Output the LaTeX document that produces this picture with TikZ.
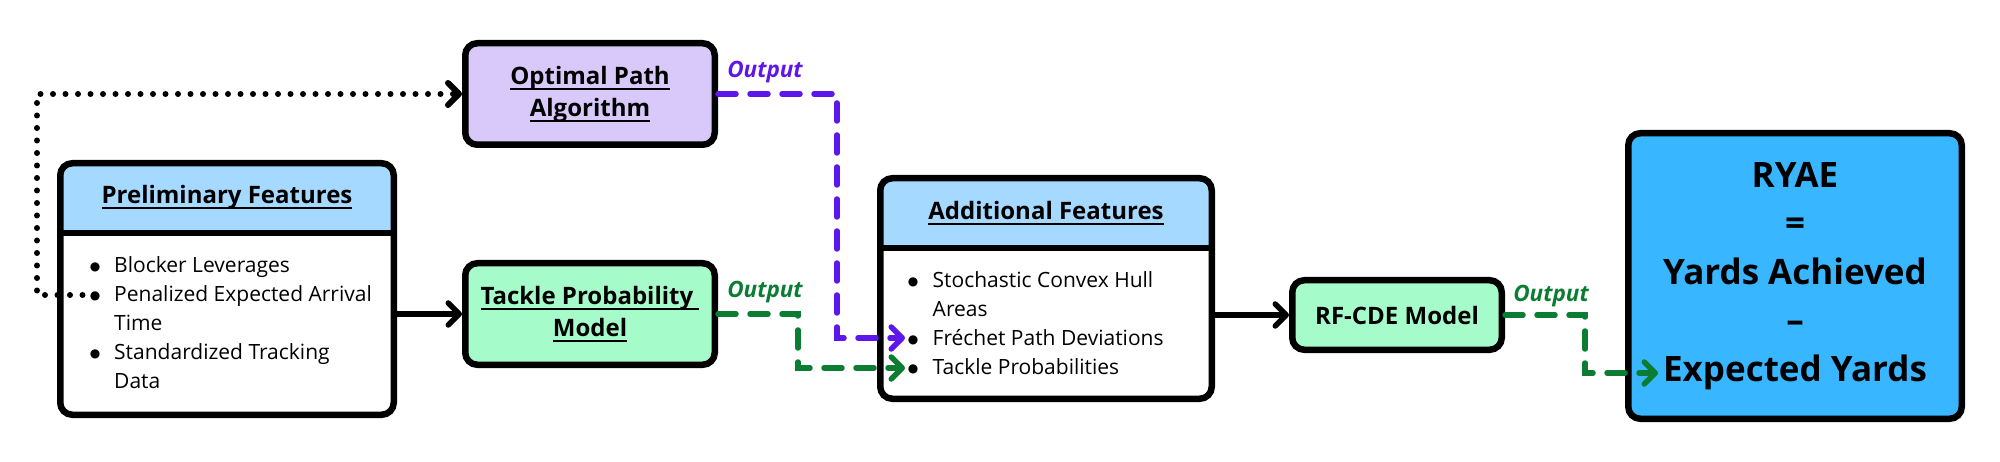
\documentclass[tikz,border=0pt]{standalone}
\usepackage{fontspec}
\setmainfont{Open Sans}
\newfontfamily\symfont{DejaVu Sans}
\usetikzlibrary{arrows.meta}
\definecolor{hdblue}{RGB}{166,217,255}
\definecolor{optfill}{RGB}{217,201,251}
\definecolor{mdlfill}{RGB}{166,251,203}
\definecolor{ryblue}{RGB}{56,182,255}
\definecolor{outpurple}{RGB}{94,23,235}
\definecolor{outgreen}{RGB}{10,125,50}
\newcommand{\ulw}[1]{\setbox0\hbox{#1}\rlap{\rule[-6pt]{\wd0}{1.8pt}}\box0}
\newcommand{\bul}{\makebox[9pt][c]{\raisebox{2pt}{\symfont\fontsize{12}{14}\selectfont ●}}}
\tikzset{
  box/.style={draw,line width=6.5pt,rounded corners=12pt,inner sep=0pt,align=center},
  featbox/.style={box,fill=white,path picture={
      \fill[hdblue,sharp corners] (path picture bounding box.north west) rectangle ([yshift=-70pt]path picture bounding box.north east);
      \draw[line width=6.5pt] ([yshift=-70pt]path picture bounding box.north west)--([yshift=-70pt]path picture bounding box.north east);}},
  ttl/.style={font=\fontsize{24}{32}\selectfont\bfseries,align=center},
  lst/.style={font=\fontsize{21}{29}\selectfont,inner sep=0pt,anchor=base west},
  outlbl/.style={font=\fontsize{22.5}{25}\selectfont\bfseries\itshape},
  arr/.style={line width=5.5pt,-{Straight Barb[length=11pt,width=22pt,round]}},
  dashln/.style={arr,dash pattern=on 18pt off 14pt,line cap=round},
  dotln/.style={arr,dash pattern=on 0pt off 12.5pt,line cap=round,line width=6pt},
}
\begin{document}
\begin{tikzpicture}[x=1pt,y=-1pt]
	\useasboundingbox (0,0) rectangle (2000,462);
	% 初步特征
	\node[featbox,minimum width=333.5pt,minimum height=251.5pt] (pre) at (227,289) {};
	\node[ttl] (prehd) at (227,197) {\ulw{Preliminary Features}};
	\node[lst] (prelst) at (90.5,273) {\begin{tabular}[t]{@{}l@{\hspace{14.5pt}}l@{}}
		\bul & Blocker Leverages\\
		\bul & Penalized Expected Arrival\\
		& Time\\
		\bul & Standardized Tracking\\
		& Data
	\end{tabular}};
	\coordinate (pea) at (95,295);
	% 模型
	\node[box,fill=optfill,ttl,minimum width=249.5pt,minimum height=101.5pt] (opt) at (590,94) {\ulw{Optimal Path}\\\ulw{Algorithm}};
	\node[box,fill=mdlfill,ttl,minimum width=249.5pt,minimum height=101.5pt] (tpm) at (590,314) {\ulw{Tackle Probability\ }\\\ulw{Model}};
	% 附加特征
	\node[featbox,minimum width=331.5pt,minimum height=220.5pt] (add) at (1046,288.5) {};
	\node[ttl] (addhd) at (1046,213) {\ulw{Additional Features}};
	\node[lst] (addlst) at (908.5,288) {\begin{tabular}[t]{@{}l@{\hspace{15pt}}l@{}}
		\bul & Stochastic Convex Hull\\
		& Areas\\
		\bul & Fréchet Path Deviations\\
		\bul & Tackle Probabilities
	\end{tabular}};
	\coordinate (frechet) at (905,338);
	\coordinate (tackp) at (905,368);
	\node[box,fill=mdlfill,ttl,minimum width=209.5pt,minimum height=69.5pt] (rf) at (1397,315) {RF-CDE Model};
	\node[box,fill=ryblue,font=\fontsize{35}{48.5}\selectfont\bfseries,minimum width=333.5pt,minimum height=285.5pt] (ryae) at (1795,276) {RYAE\\=\\Yards Achieved\\–\\Expected Yards};
	\coordinate (expy) at (1658,373);
	% 连线
	\draw[dotln] (pea) -- ++(-58,0) |- (opt.west);
	\draw[arr] (pre.east |- tpm.west) -- (tpm.west);
	\draw[arr] (add.east |- rf.west) -- (rf.west);
	\draw[dashln,outpurple] (opt.east) -- ++(119,0) |- (frechet);
	\draw[dashln,outgreen] (tpm.east) -- ++(80,0) |- (tackp);
	\draw[dashln,outgreen] (rf.east) -- ++(80,0) |- (expy);
	\node[outlbl,outpurple] (out1) at (765,72) {Output};
	\node[outlbl,outgreen] (out2) at (765,292) {Output};
	\node[outlbl,outgreen] (out3) at (1551,296) {Output};
\end{tikzpicture}
\end{document}
